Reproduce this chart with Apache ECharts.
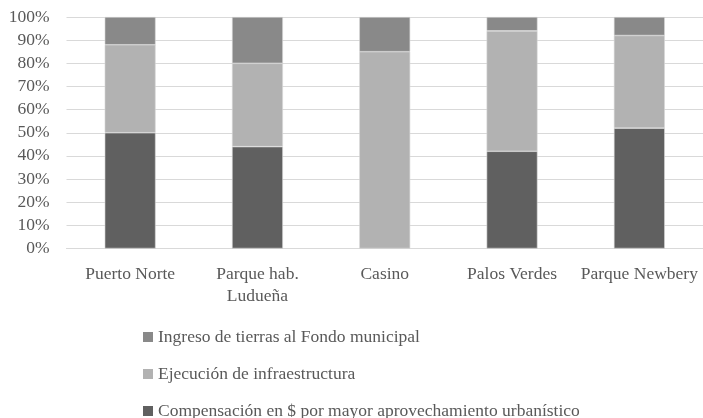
<!DOCTYPE html>
<html>
<head>
<meta charset="utf-8">
<script src="https://cdn.jsdelivr.net/npm/echarts@6/dist/echarts.min.js"></script>
<style>html,body{margin:0;padding:0;background:#fff}#c{width:703px;height:418px}</style>
</head>
<body>
<div id="c"></div>
<script>
const categories = ['Puerto Norte', 'Parque hab.\nLudueña', 'Casino', 'Palos Verdes', 'Parque Newbery'];
const compensacion = [50, 44, 0, 42, 52];
const ejecucion = [38, 36, 85, 52, 40];
const ingreso = [12, 20, 15, 6, 8];
const yTicks = [0, 10, 20, 30, 40, 50, 60, 70, 80, 90, 100];
const seriesNames = ['Compensación en $ por mayor aprovechamiento urbanístico', 'Ejecución de infraestructura', 'Ingreso de tierras al Fondo municipal'];

const font = 'Liberation Serif';
const txt = '#595959';
const chart = echarts.init(document.getElementById('c'));
const mk = (name, data, color) => ({
  name, type: 'bar', stack: 'a', data, barWidth: '40%',
  itemStyle: { color, borderColor: '#d6d6d6', borderWidth: 0.6 },
  emphasis: { disabled: true }
});
chart.setOption({
  animation: false,
  textStyle: { fontFamily: font },
  grid: { left: 66.5, top: 17, width: 641.5, height: 231.5, containLabel: false },
  xAxis: {
    type: 'category', data: categories,
    axisLine: { lineStyle: { color: '#d9d9d9', width: 1 } },
    axisTick: { show: false },
    axisLabel: { color: txt, fontSize: 17.5, fontFamily: font, margin: 15, lineHeight: 22, interval: 0 }
  },
  yAxis: {
    type: 'value', min: yTicks[0], max: yTicks[yTicks.length - 1], interval: 10,
    axisLabel: { color: txt, fontSize: 17.5, fontFamily: font, margin: 17, formatter: v => v + '%' },
    splitLine: { lineStyle: { color: '#d9d9d9', width: 1 } },
    axisLine: { show: false }, axisTick: { show: false }
  },
  legend: {
    orient: 'vertical', left: 138, top: 325, height: 94, width: 565,
    itemWidth: 10, itemHeight: 10, itemGap: 17, padding: [2, 5, 0, 5],
    data: [seriesNames[2], seriesNames[1], seriesNames[0]],
    textStyle: { color: txt, fontSize: 17.5, fontFamily: font, lineHeight: 20 },
    itemStyle: { borderWidth: 0 },
    icon: 'rect'
  },
  series: [
    mk(seriesNames[0], compensacion, '#606060'),
    mk(seriesNames[1], ejecucion, '#b2b2b2'),
    mk(seriesNames[2], ingreso, '#898989')
  ]
});
</script>
</body>
</html>
